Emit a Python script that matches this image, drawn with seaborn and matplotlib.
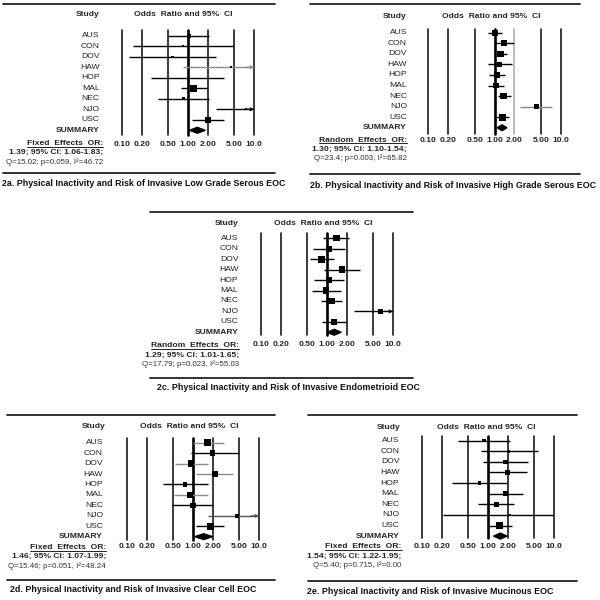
import matplotlib
matplotlib.use("Agg")
import numpy as np
import pandas as pd
import matplotlib.pyplot as plt
import seaborn as sns
from matplotlib.transforms import blended_transform_factory as blend

# Study rows and the log axis ticks shared by every panel
studies = ["AUS", "CON", "DOV", "HAW", "HOP", "MAL", "NEC", "NJO", "USC"]
tick_values = [0.1, 0.2, 0.5, 1.0, 2.0, 5.0, 10.0]
tick_labels = ["0.10", "0.20", "0.50", "1.00", "2.00", "5.00", "10.0"]

# 2a. Low grade serous (upper > 10 means arrow)
or_2a = [1.03, 0.84, 0.59, 4.47, 1.00, 1.23, 0.86, 7.50, 2.00]
lo_2a = [0.50, 0.15, 0.13, 0.84, 0.28, 0.79, 0.36, 2.68, 1.15]
hi_2a = [2.10, 4.90, 2.68, 12.0, 3.58, 1.94, 2.12, 12.0, 3.58]
wt_2a = [3, 1, 1, 1, 1, 8, 2, 1, 6]

# 2b. High grade serous
or_2b = [1.01, 1.38, 1.23, 1.20, 1.10, 1.07, 1.37, 4.26, 1.32]
lo_2b = [0.79, 0.97, 1.08, 0.79, 0.83, 0.80, 1.12, 2.41, 1.06]
hi_2b = [1.29, 1.96, 1.54, 1.87, 1.42, 1.40, 1.75, 7.40, 1.65]
wt_2b = [7, 7, 7, 5, 7, 6, 7, 4, 8]

# 2c. Endometrioid
or_2c = [1.40, 1.08, 0.84, 1.70, 1.08, 0.98, 1.18, 6.55, 1.28]
lo_2c = [0.88, 0.62, 0.55, 0.91, 0.64, 0.60, 0.83, 2.59, 0.85]
hi_2c = [2.17, 1.87, 1.29, 3.15, 1.83, 1.61, 1.72, 12.0, 1.94]
wt_2c = [7, 6, 8, 7, 6, 7, 7, 4, 7]

# 2d. Clear cell
or_2d = [1.66, 1.98, 0.93, 2.17, 0.77, 0.91, 1.00, 4.62, 1.83]
lo_2d = [1.02, 0.94, 0.53, 1.12, 0.35, 0.51, 0.48, 1.69, 1.12]
hi_2d = [2.97, 5.00, 1.72, 4.00, 1.69, 1.69, 2.00, 12.0, 3.00]
wt_2d = [8, 5, 7, 6, 3, 7, 5, 3, 8]

# 2e. Mucinous
or_2e = [0.87, 2.08, 1.85, 2.00, 0.75, 1.83, 1.34, 2.17, 1.50]
lo_2e = [0.36, 0.78, 0.84, 1.02, 0.29, 1.02, 0.72, 0.21, 1.02]
hi_2e = [2.13, 5.70, 4.00, 3.90, 1.94, 3.38, 2.47, 9.60, 2.33]
wt_2e = [2, 1, 3, 5, 2, 5, 5, 1, 8]

summary_or = [1.39, 1.30, 1.29, 1.46, 1.54]
summary_lo = [1.06, 1.10, 1.01, 1.07, 1.22]
summary_hi = [1.83, 1.54, 1.65, 1.99, 1.95]
effect_type = ["Fixed", "Random", "Random", "Fixed", "Fixed"]
het_text = ["Q=15.02; p=0.059, I\u00b2=46.72", "Q=23.4; p=0.003, I\u00b2=65.82",
            "Q=17.79; p=0.023, I\u00b2=55.03", "Q=15.46; p=0.051, I\u00b2=48.24",
            "Q=5.40; p=0.715, I\u00b2=0.00"]
captions = ["2a. Physical Inactivity and Risk of Invasive Low Grade Serous EOC",
            "2b. Physical Inactivity and Risk of Invasive High Grade Serous EOC",
            "2c. Physical Inactivity and Risk of Invasive Endometrioid EOC",
            "2d. Physical Inactivity and Risk of Invasive Clear Cell EOC",
            "2e. Physical Inactivity and Risk of Invasive Mucinous EOC"]

panel_data = [(or_2a, lo_2a, hi_2a, wt_2a), (or_2b, lo_2b, hi_2b, wt_2b),
              (or_2c, lo_2c, hi_2c, wt_2c), (or_2d, lo_2d, hi_2d, wt_2d),
              (or_2e, lo_2e, hi_2e, wt_2e)]

# CI line colours (some rows are drawn gray in the original)
K, G, D = "black", "#8c8c8c", "#555555"
ci_colors = [[K, K, K, G, K, K, K, K, K],
             [K, K, K, K, K, K, K, G, K],
             [K] * 9,
             [G, K, G, G, K, G, K, D, K],
             [K] * 9]

# Layout of each panel, in pixels of the 600x600 picture
layout = [
    dict(x01=121.7, x10=254, y0=35.7, dy=10.51, vt=30, vb=135, fl=3, fr=275, ty=4, by=173,
         lab=99.5, sx=88, hx=183.5, hy=15, tky=144, er=103, ey=143.3, cx=2, cy=184),
    dict(x01=428.3, x10=560.7, y0=32.7, dy=10.56, vt=29, vb=134, fl=310, fr=580, ty=4.3, by=174,
         lab=407, sx=395, hx=491.7, hy=16.7, tky=140, er=407, ey=140, cx=310, cy=185),
    dict(x01=260.7, x10=393, y0=238.3, dy=10.44, vt=233, vb=335, fl=150, fr=413, ty=211.7, by=378,
         lab=238.3, sx=226.7, hx=323, hy=223.3, tky=344.3, er=239.3, ey=345.7, cx=157, cy=387),
    dict(x01=126.7, x10=259, y0=442.7, dy=10.44, vt=438, vb=540, fl=7, fr=275, ty=415, by=580,
         lab=103, sx=93.3, hx=189, hy=426.7, tky=546.7, er=106, ey=547.3, cx=10, cy=590),
    dict(x01=421.7, x10=554, y0=440.7, dy=10.6, vt=436, vb=538, fl=308, fr=577, ty=415, by=580.7,
         lab=399.3, sx=388.3, hx=486.7, hy=427.3, tky=546, er=401.7, ey=547, cx=307, cy=591.7),
]

sns.set_style("white")
plt.rcParams["font.family"] = ["Liberation Sans", "DejaVu Sans"]
FS = 6.1

fig = plt.figure(figsize=(6, 6), dpi=100)
bg = fig.add_axes([0, 0, 1, 1])
bg.set_xlim(0, 600)
bg.set_ylim(600, 0)
bg.axis("off")

underlined = []

for k, L in enumerate(layout):
    ors, los, his, wts = panel_data[k]
    df = pd.DataFrame({"study": studies, "OR": ors, "lo": los, "hi": his,
                       "weight": wts, "row": np.arange(len(studies))})

    ax = fig.add_axes([L["x01"] / 600, 1 - L["vb"] / 600,
                       (L["x10"] - L["x01"]) / 600, (L["vb"] - L["vt"]) / 600])
    ax.set_xscale("log")
    ax.set_xlim(0.1, 10)
    ax.set_ylim((L["vb"] - L["y0"]) / L["dy"], (L["vt"] - L["y0"]) / L["dy"])
    ax.patch.set_alpha(0)
    ax.axis("off")

    # reference lines
    for v in tick_values:
        col = "#1a1a1a"
        if k == 1 and v == 2.0:
            col = "#b0b0b0"
        ax.axvline(v, color="black" if v == 1.0 else col,
                   lw=1.9 if v == 1.0 else 1.2, clip_on=False, zorder=1)

    # confidence intervals
    for r, row in df.iterrows():
        c = ci_colors[k][r]
        ax.hlines(row["row"], row["lo"], min(row["hi"], 10), color=c, lw=1.0, zorder=2)
        if row["hi"] > 10:
            ax.annotate("", xy=(10, row["row"]), xytext=(7.5, row["row"]),
                        arrowprops=dict(arrowstyle="->", lw=0.8, color=c,
                                        shrinkA=0, shrinkB=0, mutation_scale=5),
                        annotation_clip=False)

    sns.scatterplot(data=df, x="OR", y="row", size="weight", sizes=(3, 30),
                    size_norm=(1, 10), marker="s", color="black", linewidth=0,
                    legend=False, ax=ax, zorder=3)

    # summary diamond
    s, lo, hi = summary_or[k], summary_lo[k], summary_hi[k]
    ax.fill([lo, s, hi, s], [9, 8.72, 9, 9.28], color="black", zorder=3, clip_on=False)
    ax.set_xlim(0.1, 10)
    ax.axis("off")

    # study labels
    tr = blend(bg.transData, ax.transData)
    for r, name in enumerate(studies):
        bg.text(L["lab"], r, name, transform=tr, ha="right", va="center",
                fontsize=FS, color="#222222")
    bg.text(L["lab"], 9, "SUMMARY", transform=tr, ha="right", va="center",
            fontsize=FS, fontweight="bold")

    # headers
    bg.text(L["sx"], L["hy"], "Study", ha="center", va="center", fontsize=FS, fontweight="bold")
    bg.text(L["hx"], L["hy"], "Odds  Ratio and 95%  CI", ha="center", va="center",
            fontsize=FS, fontweight="bold")

    # tick labels
    tt = blend(ax.transData, bg.transData)
    for v, lab in zip(tick_values, tick_labels):
        bg.text(v, L["tky"], lab, transform=tt, ha="center", va="center",
                fontsize=FS, fontweight="bold")

    # effect summary text
    t = bg.text(L["er"], L["ey"], f"{effect_type[k]}  Effects  OR:", ha="right", va="center",
                fontsize=FS, fontweight="bold", color="#222222")
    underlined.append(t)
    bg.text(L["er"], L["ey"] + 9.3,
            f"{summary_or[k]:.2f}; 95% CI: {summary_lo[k]:.2f}-{summary_hi[k]:.2f};",
            ha="right", va="center", fontsize=FS, fontweight="bold")
    bg.text(L["er"], L["ey"] + 18.6, het_text[k], ha="right", va="center",
            fontsize=5.7, color="#333333")

    # frame lines and caption
    bg.plot([L["fl"], L["fr"]], [L["ty"], L["ty"]], color="#222222", lw=1.3)
    bg.plot([L["fl"], L["fr"]], [L["by"], L["by"]], color="#222222", lw=1.3)
    bg.text(L["cx"], L["cy"], captions[k], ha="left", va="center", fontsize=6.4,
            fontweight="bold", color="#111111")

# underline the "Effects OR:" labels
fig.canvas.draw()
inv = bg.transData.inverted()
for t in underlined:
    bb = t.get_window_extent()
    (x0, y0), (x1, y1) = inv.transform([[bb.x0, bb.y0], [bb.x1, bb.y1]])
    bg.plot([x0, x1], [y0 - 0.3, y0 - 0.3], color="#222222", lw=0.7)

fig.savefig("out.png", dpi=100)
